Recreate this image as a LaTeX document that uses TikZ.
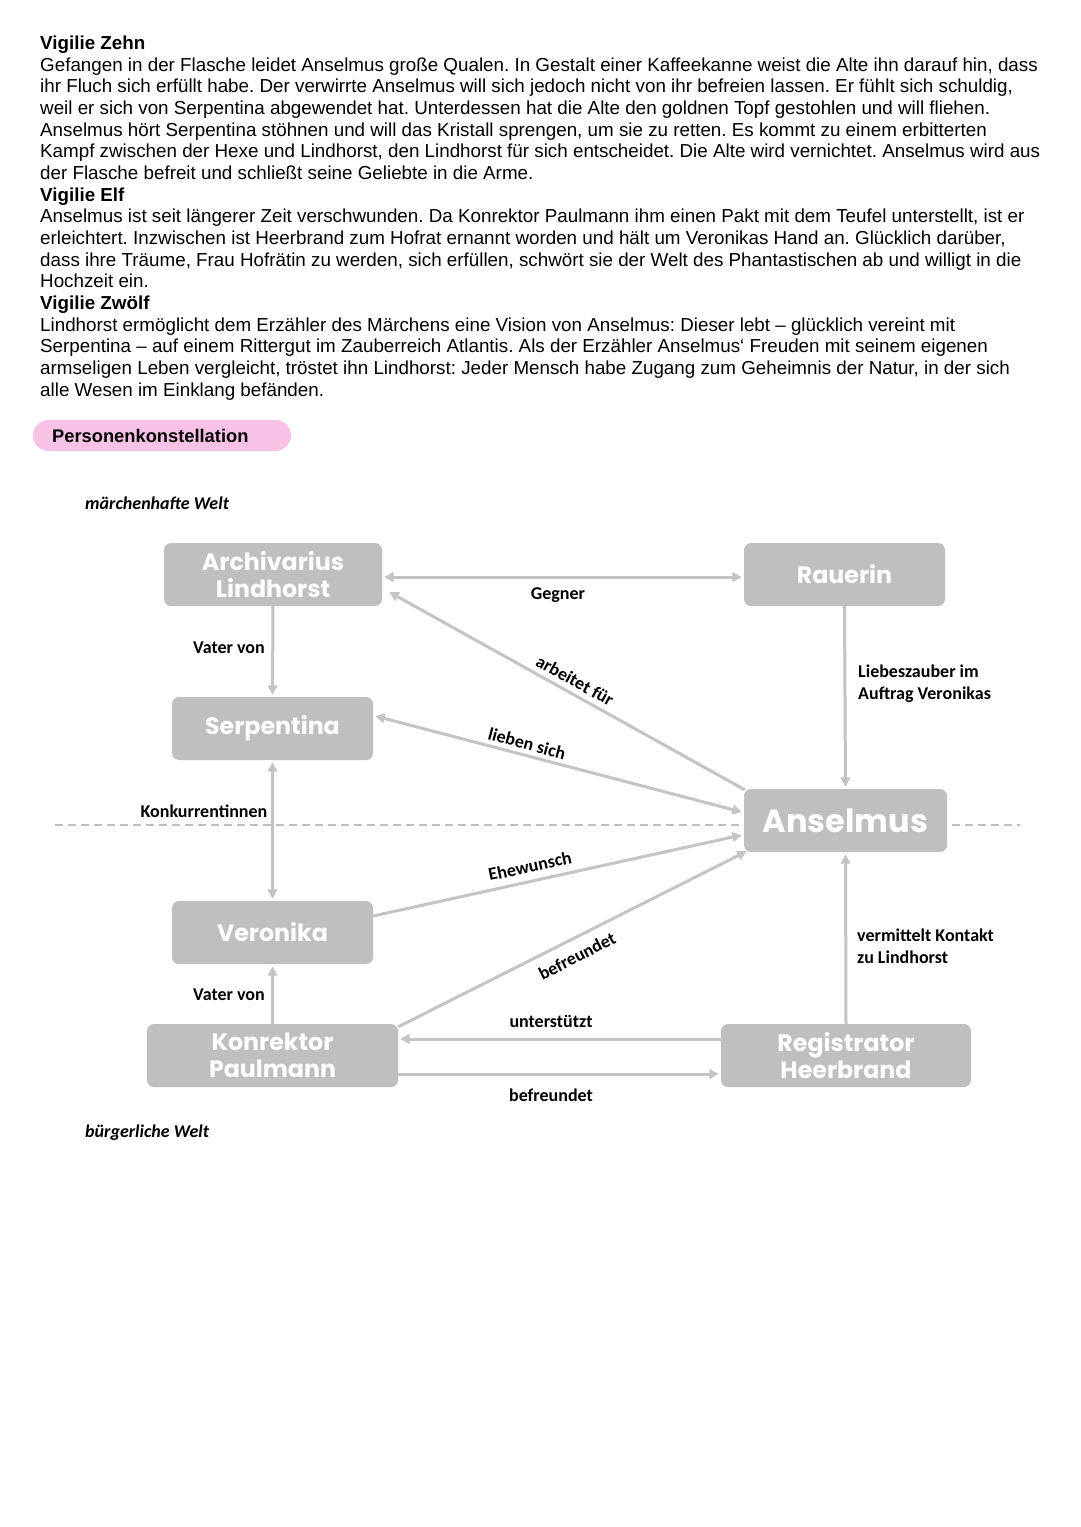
\documentclass[tikz,border=0pt]{standalone}
\usepackage{fontspec}
\setmainfont{Liberation Sans}
\newfontfamily\labf{Carlito}
\newfontfamily\boxf{Poppins}
\usetikzlibrary{arrows.meta}
\definecolor{boxgray}{RGB}{191,191,191}
\definecolor{argray}{RGB}{196,196,196}
\definecolor{dashgray}{RGB}{190,190,190}
\definecolor{pillpink}{RGB}{248,194,230}
\frenchspacing
\begin{document}
\begin{tikzpicture}[x=1pt,y=-1pt,
  >={Triangle[length=9.5pt,width=9.5pt]},
  txt/.style={anchor=base west, inner sep=0pt, font=\fontsize{18.8}{22}\selectfont},
  hd/.style={anchor=base west, inner sep=0pt, font=\bfseries\fontsize{18.8}{22}\selectfont},
  person/.style={fill=boxgray, rounded corners=7pt, text=white, align=center, inner sep=0pt, minimum height=63pt, font=\boxf\bfseries\fontsize{23.7}{27}\selectfont},
  lab/.style={inner sep=0pt, font=\labf\bfseries\fontsize{18}{22}\selectfont},
  side/.style={lab, anchor=west, align=left},
  world/.style={anchor=west, inner sep=0pt, font=\labf\bfseries\itshape\fontsize{18}{22}\selectfont},
  rel/.style={draw=argray, line width=3pt},
  divider/.style={draw=dashgray, line width=1.3pt, dash pattern=on 8pt off 5pt}
]
\useasboundingbox (0,0) rectangle (1080,1527);
\fill[white] (0,0) rectangle (1080,1527);

% ---- text ----
\node[hd]  (t1)  at (40,49.5)   {Vigilie Zehn};
\node[txt] (t2)  at (40,71.2)   {Gefangen in der Flasche leidet Anselmus große Qualen. In Gestalt einer Kaffeekanne weist die Alte ihn darauf hin, dass};
\node[txt] (t3)  at (40,92.8)   {ihr Fluch sich erfüllt habe. Der verwirrte Anselmus will sich jedoch nicht von ihr befreien lassen. Er fühlt sich schuldig,};
\node[txt] (t4)  at (40,114.5)  {weil er sich von Serpentina abgewendet hat. Unterdessen hat die Alte den goldnen Topf gestohlen und will fliehen.};
\node[txt] (t5)  at (40,136.2)  {Anselmus hört Serpentina stöhnen und will das Kristall sprengen, um sie zu retten. Es kommt zu einem erbitterten};
\node[txt] (t6)  at (40,157.8)  {Kampf zwischen der Hexe und Lindhorst, den Lindhorst für sich entscheidet. Die Alte wird vernichtet. Anselmus wird aus};
\node[txt] (t7)  at (40,179.5)  {der Flasche befreit und schließt seine Geliebte in die Arme.};
\node[hd]  (t8)  at (40,201.2)  {Vigilie Elf};
\node[txt] (t9)  at (40,222.8)  {Anselmus ist seit längerer Zeit verschwunden. Da Konrektor Paulmann ihm einen Pakt mit dem Teufel unterstellt, ist er};
\node[txt] (t10) at (40,244.5)  {erleichtert. Inzwischen ist Heerbrand zum Hofrat ernannt worden und hält um Veronikas Hand an. Glücklich darüber,};
\node[txt] (t11) at (40,266.2)  {dass ihre Träume, Frau Hofrätin zu werden, sich erfüllen, schwört sie der Welt des Phantastischen ab und willigt in die};
\node[txt] (t12) at (40,287.8)  {Hochzeit ein.};
\node[hd]  (t13) at (40,309.5)  {Vigilie Zwölf};
\node[txt] (t14) at (40,331.2)  {Lindhorst ermöglicht dem Erzähler des Märchens eine Vision von Anselmus: Dieser lebt – glücklich vereint mit};
\node[txt] (t15) at (40,352.8)  {Serpentina – auf einem Rittergut im Zauberreich Atlantis. Als der Erzähler Anselmus‘ Freuden mit seinem eigenen};
\node[txt] (t16) at (40,374.5)  {armseligen Leben vergleicht, tröstet ihn Lindhorst: Jeder Mensch habe Zugang zum Geheimnis der Natur, in der sich};
\node[txt] (t17) at (40,396.2)  {alle Wesen im Einklang befänden.};

% ---- heading pill ----
\node[fill=pillpink, rounded corners=15.5pt, minimum width=258pt, minimum height=31pt, inner sep=0pt] (pill) at (162,435.5) {};
\node[hd, font=\bfseries\fontsize{18.3}{22}\selectfont] (pilltxt) at (52,442.5) {Personenkonstellation};

\node[world] (mw) at (85,503) {märchenhafte Welt};
\node[world] (bw) at (85,1133) {bürgerliche Welt};

% ---- divider ----
\coordinate (dl) at (55,825);
\coordinate (dr) at (1020,825);
\draw[divider] (dl) -- (dr);

% ---- persons ----
\node[person, minimum width=218pt] (lind) at (273,574.5) {Archivarius\\Lindhorst};
\node[person, minimum width=201pt] (rau)  at (844.5,574.5) {Rauerin};
\node[person, minimum width=201pt] (serp) at (272.5,728.5) {Serpentina};
\node[person, minimum width=203pt, font=\boxf\bfseries\fontsize{32}{36}\selectfont] (ans) at (845.5,820.5) {Anselmus};
\node[person, minimum width=201pt] (vero) at (272.5,932.5) {Veronika};
\node[person, minimum width=251pt] (paul) at (272.5,1055.5) {Konrektor\\Paulmann};
\node[person, minimum width=250pt] (heer) at (846,1055.5) {Registrator\\Heerbrand};

% ---- connectors ----
\draw[rel,<->] ([xshift=2pt,yshift=-2.5pt]lind.east) -- ([xshift=-2pt,yshift=-2.5pt]rau.west);
\draw[rel,->] (lind.south) -- ([yshift=2pt]serp.north);
\draw[rel,->] (rau.south) -- ([yshift=2pt]ans.north);
\draw[rel,<->] ([yshift=-2pt]serp.south) -- ([yshift=2pt]vero.north);
\draw[rel,->] (paul.north) -- ([yshift=-2pt]vero.south);
\draw[rel,->] (heer.north) -- ([yshift=-2pt]ans.south);
\draw[rel,->] ([xshift=1pt,yshift=-1pt]ans.north west) -- ([xshift=7pt,yshift=-17.5pt]lind.east);
\draw[rel,<->] ([xshift=-2pt,yshift=8.5pt]ans.west) -- ([xshift=2pt,yshift=12.5pt]serp.east);
\draw[rel,->] ([yshift=16.5pt]vero.east) -- ([xshift=-2pt,yshift=-14.5pt]ans.west);
\draw[rel,->] ([yshift=-3pt]paul.north east) -- ([xshift=3pt,yshift=1pt]ans.south west);
\draw[rel,->] ([yshift=16.5pt]heer.west) -- ([xshift=2pt,yshift=16.5pt]paul.east);
\draw[rel,->] ([yshift=-18.5pt]paul.east) -- ([xshift=-2pt,yshift=-18.5pt]heer.west);

% ---- labels ----
\node[lab] (l1) at (229,648) {Vater von};
\node[lab] (l2) at (558,595) {Gegner};
\node[lab, rotate=-29] (l3) at (575,680.5) {arbeitet für};
\node[side] (l4) at (858,684) {Liebeszauber im\\Auftrag Veronikas};
\node[lab, rotate=-15] (l5) at (527,743.5) {lieben sich};
\node[lab] (l6) at (204,811.5) {Konkurrentinnen};
\node[lab, rotate=12] (l7) at (530,866) {Ehewunsch};
\node[lab, rotate=27] (l8) at (577,956) {befreundet};
\node[side] (l9) at (857,946.5) {vermittelt Kontakt\\zu Lindhorst};
\node[lab] (l10) at (229,995) {Vater von};
\node[lab] (l11) at (551,1021) {unterstützt};
\node[lab] (l12) at (551,1095) {befreundet};
\end{tikzpicture}
\end{document}
